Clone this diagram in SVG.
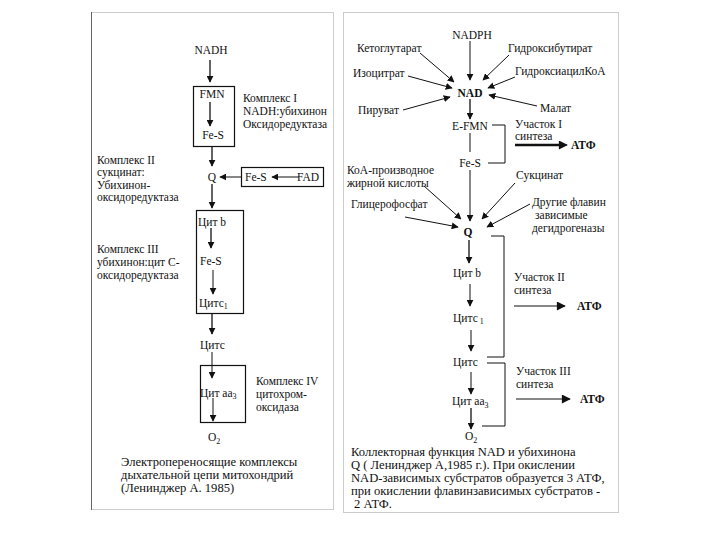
<svg xmlns="http://www.w3.org/2000/svg" width="720" height="540" viewBox="0 0 720 540">
<style>
text{font-family:"Liberation Serif","Times New Roman",serif;font-size:11.5px;fill:#111}
.c{text-anchor:middle}
.b{font-weight:bold}
.cap{font-size:12.6px}
.ln{stroke:#111;stroke-width:1.3;fill:none}
.th{stroke:#111;stroke-width:1;fill:none}
.bx{stroke:#111;stroke-width:1.2;fill:none}
.sub{font-size:8px}
</style>
<defs>
<marker id="ah" viewBox="0 0 10 10" refX="9" refY="5" markerWidth="7" markerHeight="7" markerUnits="userSpaceOnUse" orient="auto">
<path d="M0,0 L10,5 L0,10 z" fill="#111"/>
</marker>
<marker id="ahb" viewBox="0 0 10 10" refX="9" refY="5" markerWidth="11" markerHeight="9" markerUnits="userSpaceOnUse" orient="auto">
<path d="M0,0 L10,5 L0,10 z" fill="#111"/>
</marker>
</defs>
<rect width="720" height="540" fill="#fff"/>
<g id="panels">
<rect x="91.5" y="12.5" width="242" height="497" fill="none" stroke="#ccc" stroke-width="1"/>
<line x1="91.5" y1="12" x2="91.5" y2="510" stroke="#666" stroke-width="1"/>
<rect x="343.5" y="12.5" width="275" height="500" fill="none" stroke="#ccc" stroke-width="1"/>
</g>
<g id="connectors">
<line class="ln" x1="210" y1="60" x2="210" y2="82" marker-end="url(#ah)"/>
<line class="ln" x1="210" y1="102" x2="210" y2="126" marker-end="url(#ah)"/>
<line class="ln" x1="212" y1="146" x2="212" y2="166" marker-end="url(#ah)"/>
<line class="th" x1="241" y1="177" x2="220" y2="177" marker-end="url(#ah)"/>
<line class="th" x1="299" y1="177" x2="272" y2="177" marker-end="url(#ah)"/>
<line class="ln" x1="212" y1="184" x2="212" y2="208" marker-end="url(#ah)"/>
<line class="ln" x1="211" y1="228" x2="211" y2="248" marker-end="url(#ah)"/>
<line class="th" x1="213" y1="270" x2="213" y2="294" marker-end="url(#ah)"/>
<line class="ln" x1="212" y1="313" x2="212" y2="334" marker-end="url(#ah)"/>
<line class="th" x1="212" y1="352" x2="212" y2="378" marker-end="url(#ah)"/>
<line class="th" x1="213" y1="398" x2="213" y2="421" marker-end="url(#ah)"/>

<line class="th" x1="470" y1="41" x2="470" y2="80" marker-end="url(#ah)"/>
<line class="th" x1="420" y1="53" x2="454" y2="82" marker-end="url(#ah)"/>
<line class="th" x1="509" y1="55" x2="483" y2="80" marker-end="url(#ah)"/>
<line class="th" x1="408" y1="76" x2="452" y2="88" marker-end="url(#ah)"/>
<line class="th" x1="515" y1="77" x2="488" y2="88" marker-end="url(#ah)"/>
<line class="th" x1="403" y1="110" x2="450" y2="97" marker-end="url(#ah)"/>
<line class="th" x1="537" y1="106" x2="489" y2="95" marker-end="url(#ah)"/>
<line class="ln" x1="470" y1="99" x2="470" y2="119" marker-end="url(#ah)"/>
<line class="th" x1="470" y1="133" x2="470" y2="152"/>
<polyline class="th" points="492,125 505,125 505,163 488,163"/>
<line stroke="#111" stroke-width="2.5" x1="515" y1="145" x2="560" y2="145"/>
<line class="th" x1="555" y1="145" x2="567" y2="145" marker-end="url(#ahb)"/>
<line class="th" x1="470" y1="170" x2="470" y2="221" marker-end="url(#ah)"/>
<line class="th" x1="424" y1="186" x2="461" y2="219" marker-end="url(#ah)"/>
<line class="th" x1="405" y1="217" x2="458" y2="227" marker-end="url(#ah)"/>
<line class="th" x1="515" y1="183" x2="482" y2="219" marker-end="url(#ah)"/>
<line class="th" x1="530" y1="204" x2="487" y2="227" marker-end="url(#ah)"/>
<polyline class="th" points="491,236 504,236 504,357 487,357"/>
<line class="ln" x1="469" y1="240" x2="469" y2="263" marker-end="url(#ah)"/>
<line class="th" x1="470" y1="284" x2="470" y2="306" marker-end="url(#ah)"/>
<line class="th" x1="471" y1="330" x2="471" y2="351" marker-end="url(#ah)"/>
<polyline class="th" points="487,363 505,363 505,426 482,426"/>
<line class="th" x1="514" y1="306" x2="565" y2="306" marker-end="url(#ahb)"/>
<line class="th" x1="516" y1="399" x2="570" y2="399" marker-end="url(#ahb)"/>
<line class="th" x1="471" y1="372" x2="471" y2="394" marker-end="url(#ah)"/>
<line class="ln" x1="471" y1="408" x2="471" y2="429" marker-end="url(#ah)"/>
</g>
<g id="left-chain">
<text class="c" x="211" y="54">NADH</text>
<g id="complex1"><rect class="bx" x="193.5" y="86.5" width="41" height="60"/>
<text class="c" x="212" y="98">FMN</text>
<text class="c" x="213" y="139">Fe-S</text>
<text x="243" y="102">Комплекс I</text>
<text x="243" y="115">NADH:убихинон</text>
<text x="243" y="128">Оксидоредуктаза</text></g>
<text class="c" x="212" y="181">Q</text>
<g id="complex2"><rect class="bx" x="241.5" y="167.5" width="82" height="19"/>
<text x="245" y="181">Fe-S</text>
<text x="297" y="181">FAD</text>
<text x="97" y="164">Комплекс II</text>
<text x="97" y="176">сукцинат:</text>
<text x="97" y="189">Убихинон-</text>
<text x="97" y="201">оксидоредуктаза</text></g>
<g id="complex3"><rect class="bx" x="196.5" y="210.5" width="47" height="103"/>
<text x="198" y="226">Цит b</text>
<text x="200" y="265">Fe-S</text>
<text x="199" y="307">Цитс<tspan class="sub" dy="2">1</tspan></text>
<text x="97" y="253">Комплекс III</text>
<text x="97" y="266">убихинон:цит С-</text>
<text x="97" y="279">оксидоредуктаза</text></g>
<text x="200" y="349">Цитс</text>
<g id="complex4"><rect class="bx" x="200.5" y="365.5" width="45" height="57"/>
<text x="200" y="397">Цит аа<tspan class="sub" dy="2">3</tspan></text>
<text x="256" y="385">Комплекс IV</text>
<text x="256" y="398">цитохром-</text>
<text x="256" y="411">оксидаза</text></g>
<text x="208" y="441">O<tspan class="sub" dy="3">2</tspan></text>
<g id="caption-left">
<text class="cap" x="121" y="466">Электропереносящие комплексы</text>
<text class="cap" x="121" y="479">дыхательной цепи митохондрий</text>
<text class="cap" x="121" y="492">(Ленинджер А. 1985)</text></g>
</g>
<g id="right-chain">
<text class="c" x="472" y="39">NADPH</text>
<text x="357" y="52">Кетоглутарат</text>
<text x="508" y="52">Гидроксибутират</text>
<text x="353" y="77">Изоцитрат</text>
<text x="515" y="75">ГидроксиацилКоА</text>
<text class="c b" x="470" y="97">NAD</text>
<text x="358" y="114">Пируват</text>
<text x="540" y="112">Малат</text>
<text class="c" x="470" y="130">E-FMN</text>
<text x="515" y="128">Участок I</text>
<text x="515" y="140">синтеза</text>
<text class="b" x="571" y="149">АТФ</text>
<text class="c" x="470" y="167">Fe-S</text>
<text x="347" y="174">КоА-производное</text>
<text x="347" y="187">жирной кислоты</text>
<text x="516" y="179">Сукцинат</text>
<text x="351" y="208">Глицерофосфат</text>
<text x="532" y="206">Другие флавин</text>
<text x="535" y="219">зависимые</text>
<text x="532" y="232">дегидрогеназы</text>
<text class="c b" x="468" y="236">Q</text>
<text x="453" y="277">Цит b</text>
<text x="514" y="281">Участок II</text>
<text x="514" y="294">синтеза</text>
<text class="b" x="577" y="310">АТФ</text>
<text x="453" y="322">Цитс<tspan class="sub" dy="2"> 1</tspan></text>
<text x="453" y="366">Цитс</text>
<text x="516" y="375">Участок III</text>
<text x="516" y="388">синтеза</text>
<text class="b" x="580" y="403">АТФ</text>
<text x="452" y="405">Цит аа<tspan class="sub" dy="3">3</tspan></text>
<text x="465" y="440">O<tspan class="sub" dy="3">2</tspan></text>
<g id="caption-right">
<text class="cap" x="351" y="456">Коллекторная функция NAD  и убихинона</text>
<text class="cap" x="351" y="469">Q ( Ленинджер А,1985 г.). При окислении</text>
<text class="cap" x="351" y="482">NAD-зависимых субстратов образуется 3 АТФ,</text>
<text class="cap" x="351" y="495">при окислении флавинзависимых субстратов -</text>
<text class="cap" x="354" y="508"> 2 АТФ.</text></g>
</g>
</svg>
